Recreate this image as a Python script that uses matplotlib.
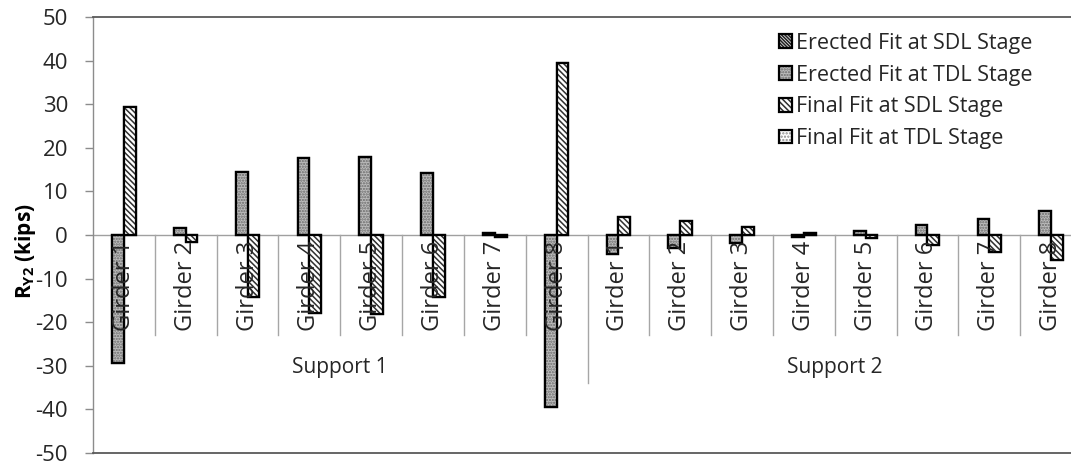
import matplotlib
matplotlib.use("Agg")
import matplotlib.pyplot as plt
from matplotlib.patches import Patch
from matplotlib.legend_handler import HandlerTuple

plt.rcParams['font.family'] = ['Open Sans', 'DejaVu Sans']
plt.rcParams['mathtext.fontset'] = 'custom'
plt.rcParams['mathtext.rm'] = 'Open Sans'
plt.rcParams['mathtext.bf'] = 'Open Sans:bold'
plt.rcParams['hatch.linewidth'] = 1.1
plt.rcParams['axes.unicode_minus'] = False

# Reaction R_Y2 (kips) per girder at the two supports
supports = ["Support 1", "Support 2"]
girders = ["Girder 1", "Girder 2", "Girder 3", "Girder 4",
           "Girder 5", "Girder 6", "Girder 7", "Girder 8"]

erected_sdl = [-29.3, 1.7, 14.4, 17.7, 18.0, 14.3, 0.4, -39.5,
               -4.4, -3.0, -1.9, -0.4, 1.0, 2.3, 3.7, 5.6]
erected_tdl = [-29.3, 1.7, 14.4, 17.7, 18.0, 14.3, 0.4, -39.5,
               -4.4, -3.0, -1.9, -0.4, 1.0, 2.3, 3.7, 5.6]
final_sdl = [29.3, -1.7, -14.3, -17.9, -18.1, -14.2, -0.4, 39.5,
             4.2, 3.2, 1.8, 0.4, -0.8, -2.3, -3.8, -5.7]
final_tdl = [29.3, -1.7, -14.3, -17.9, -18.1, -14.2, -0.4, 39.5,
             4.2, 3.2, 1.8, 0.4, -0.8, -2.3, -3.8, -5.7]

series_labels = ["Erected Fit at SDL Stage", "Erected Fit at TDL Stage",
                 "Final Fit at SDL Stage", "Final Fit at TDL Stage"]

W, H = 1071, 468
fig = plt.figure(figsize=(W / 100, H / 100), dpi=100)
ax = fig.add_axes([93 / W, 15 / H, (1082 - 93) / W, (453 - 17) / H])

n = len(supports) * len(girders)
x = list(range(n))
bw = 0.19

styles = {
    "erected_sdl": dict(fc="#e0e0e0", hc="#202020", hatch="\\" * 10),
    "erected_tdl": dict(fc="#bdbdbd", hc="#6a6a6a", hatch="." * 6),
    "final_sdl": dict(fc="white", hc="#303030", hatch="\\" * 6),
    "final_tdl": dict(fc="white", hc="#8a8a8a", hatch="." * 5),
}


def draw(vals, offset, st, z):
    xs = [i + offset for i in x]
    ax.bar(xs, vals, bw, facecolor=st["fc"], edgecolor=st["hc"],
           hatch=st["hatch"], linewidth=0, zorder=z)
    ax.bar(xs, vals, bw, fill=False, edgecolor="black",
           linewidth=1.6, zorder=z + 0.1)


draw(erected_sdl, -bw / 2, styles["erected_sdl"], 3)
draw(erected_tdl, -bw / 2, styles["erected_tdl"], 4)
draw(final_tdl, bw / 2, styles["final_tdl"], 3)
draw(final_sdl, bw / 2, styles["final_sdl"], 4)

ax.set_xlim(-0.5, n - 0.5)
ax.set_ylim(-50, 50)
ax.set_yticks(range(-50, 51, 10))
ax.set_xticks([])
ax.tick_params(axis="y", direction="out", length=6, width=1,
               color="#8c8c8c", labelsize=16, labelcolor="#262626", pad=12)

for side in ["top", "bottom", "right"]:
    ax.spines[side].set_color("#595959")
    ax.spines[side].set_linewidth(1.3)
ax.spines["left"].set_color("#8c8c8c")
ax.spines["left"].set_linewidth(1.0)

ax.axhline(0, color="#a0a0a0", linewidth=1.0, zorder=2)

# Category separators below the zero line
for b in range(1, n):
    depth = -34.0 if b % len(girders) == 0 else -22.9
    ax.plot([b - 0.5, b - 0.5], [0, depth], color="#a6a6a6",
            linewidth=1.0, zorder=2)

for i in x:
    ax.text(i, -1.4, girders[i % len(girders)], rotation=90,
            ha="center", va="top", fontsize=17, color="#262626", zorder=6)

for s, name in enumerate(supports):
    cx = s * len(girders) + (len(girders) - 1) / 2
    ax.text(cx, -30.5, name, ha="center", va="center",
            fontsize=15, color="#262626", zorder=6)

fig.text(25 / W, 1 - 251 / H, r"R$_{\mathbf{Y2}}$ (kips)", rotation=90,
         ha="center", va="center", fontsize=15, fontweight="bold",
         color="#000000")


def handle(st):
    return (Patch(facecolor=st["fc"], edgecolor=st["hc"], hatch=st["hatch"],
                  linewidth=0),
            Patch(fill=False, edgecolor="black", linewidth=1.6))


handles = [handle(styles[k]) for k in
           ["erected_sdl", "erected_tdl", "final_sdl", "final_tdl"]]
leg = ax.legend(handles, series_labels, loc="upper left",
                bbox_to_anchor=(768 / W, 1 - 22 / H),
                bbox_transform=fig.transFigure, frameon=False,
                fontsize=15.5, handlelength=0.6, handleheight=0.6,
                handletextpad=0.2, labelspacing=0.5, borderpad=0,
                handler_map={tuple: HandlerTuple(ndivide=1, pad=0)})
for t in leg.get_texts():
    t.set_color("#262626")

fig.savefig("out.png", dpi=100)
